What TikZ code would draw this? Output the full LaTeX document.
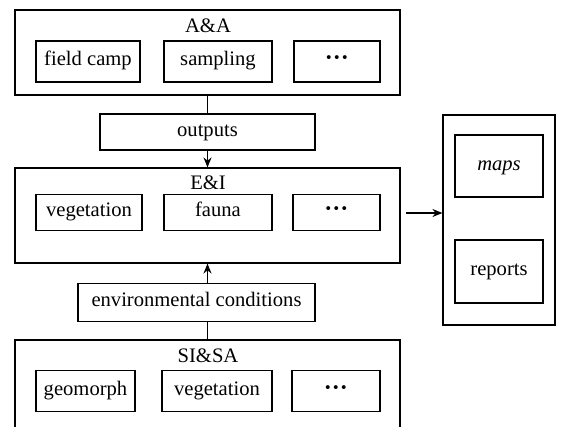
\documentclass[tikz,border=0pt]{standalone}
\usepackage{fontspec}
\setmainfont{Liberation Serif}
\usetikzlibrary{arrows.meta}
\begin{document}
\begin{tikzpicture}[x=1pt,y=-1pt,
  outer/.style={draw, line width=1.1pt, inner sep=0pt},
  inbox/.style={draw, line width=1.1pt, inner sep=0pt, text height=13pt, text depth=4pt, font=\fontsize{20.6}{23}\selectfont},
  lbl/.style={inner sep=0pt, text height=13pt, text depth=4pt, font=\fontsize{20.6}{23}\selectfont},
  dots/.style={font=\fontsize{24}{24}\selectfont\bfseries},
  conn/.style={line width=1.4pt},
  arr/.style={line width=1.4pt, -{Stealth[length=10pt,width=8pt]}}]
\useasboundingbox (0,0) rectangle (570,427);
% A&A group
\node[outer, minimum width=385pt, minimum height=85pt] (AA) at (207.5,52.5) {};
\node[lbl] (AAl) at (208,28) {A\&A};
\node[inbox, minimum width=104pt, minimum height=41pt] (fc) at (88,61.5) {field camp};
\node[inbox, minimum width=108pt, minimum height=41pt] (sam) at (218,61.5) {sampling};
\node[inbox, dots, minimum width=86pt, minimum height=41pt] (d1) at (337,61.5) {\textperiodcentered\textperiodcentered\textperiodcentered};
% outputs
\node[inbox, minimum width=215pt, minimum height=36pt] (out) at (207.5,132) {outputs};
% E&I group
\node[outer, minimum width=385pt, minimum height=95pt] (EI) at (207.5,215.5) {};
\node[lbl] (EIl) at (208,185) {E\&I};
\node[inbox, minimum width=106pt, minimum height=36pt] (veg1) at (89,212.5) {vegetation};
\node[inbox, minimum width=108pt, minimum height=36pt] (fau) at (218,212.5) {fauna};
\node[inbox, dots, minimum width=87pt, minimum height=36pt] (d2) at (336.5,212.5) {\textperiodcentered\textperiodcentered\textperiodcentered};
% environmental conditions
\node[inbox, minimum width=237pt, minimum height=38pt] (env) at (196.5,302.5) {environmental conditions};
% SI&SA group
\node[outer, minimum width=385pt, minimum height=100pt] (SI) at (207.5,390) {};
\node[lbl] (SIl) at (208,358) {SI\&SA};
\node[inbox, minimum width=99pt, minimum height=41pt] (geo) at (85.5,391) {geomorph};
\node[inbox, minimum width=110pt, minimum height=41pt] (veg2) at (217,391) {vegetation};
\node[inbox, dots, minimum width=88pt, minimum height=41pt] (d3) at (336,391) {\textperiodcentered\textperiodcentered\textperiodcentered};
% right panel
\node[outer, minimum width=112pt, minimum height=210pt] (RP) at (499,220) {};
\node[inbox, minimum width=88pt, minimum height=62pt] (maps) at (499,166) {\itshape maps};
\node[inbox, minimum width=88pt, minimum height=63pt] (rep) at (499,271.5) {reports};
% connectors
\draw[conn] (AA.south -| out.north) -- (out.north);
\draw[arr] (out.south) -- (out.south |- EI.north);
\draw[arr] (env.north -| out.south) -- (out.south |- EI.south);
\draw[conn] (out.south |- env.south) -- (out.south |- SI.north);
\coordinate (a1) at (406,213);
\draw[arr] (a1) -- (a1 -| RP.west);
\end{tikzpicture}
\end{document}
